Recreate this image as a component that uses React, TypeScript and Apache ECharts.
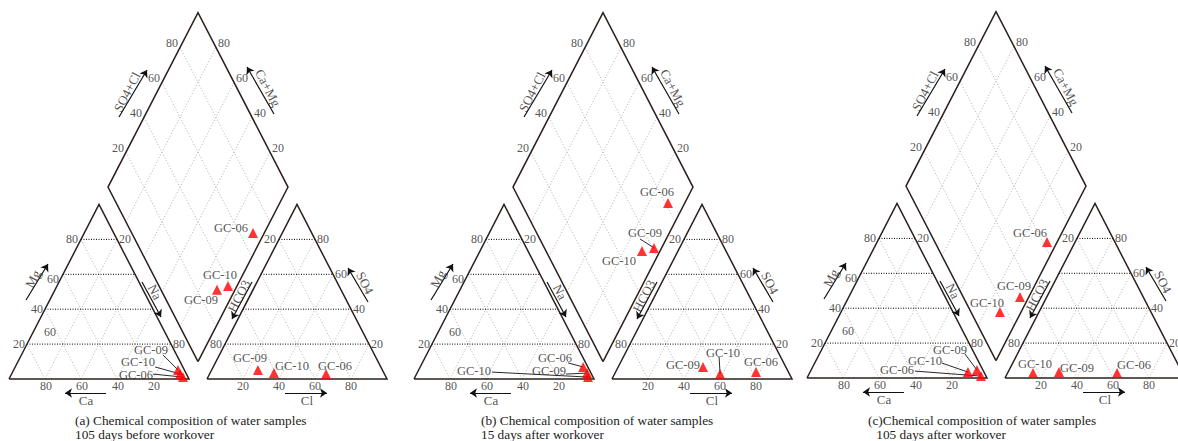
import React, { useEffect, useRef } from "react";
import * as echarts from "echarts";

// ---------- data ----------
const SAMPLES = ["GC-06", "GC-09", "GC-10"];
const TICKS = [20, 40, 60, 80];
const SIDE_TICKS = [20, 80];

// (a) 105 days before workover
const A_CA = [2.8, 3.5, 3.5];
const A_MG = [1.1, 5.2, 2.9];
const A_NA = [96.1, 91.3, 93.6];
const A_HCO3 = [32.4, 69.1, 61.1];
const A_SO4 = [2.9, 5.2, 3.4];
const A_CL = [64.7, 25.7, 35.5];
const A_SO4CL = [67.4, 31.1, 38.3];
const A_CAMG = [6.3, 10.0, 5.0];

// (b) 15 days after workover
const B_CA = [2.6, 2.2, 2.8];
const B_MG = [6.9, 3.4, 1.1];
const B_NA = [90.5, 94.4, 96.1];
const B_HCO3 = [18.0, 46.0, 38.5];
const B_SO4 = [4.0, 6.9, 2.9];
const B_CL = [78.0, 47.1, 58.6];
const B_SO4CL = [81.5, 60.9, 53.3];
const B_CAMG = [9.3, 4.2, 10.0];

// (c) 105 days after workover
const C_CA = [2.8, 3.3, 8.9];
const C_MG = [1.1, 4.6, 3.4];
const C_NA = [96.1, 92.1, 87.7];
const C_HCO3 = [36.3, 68.3, 83.0];
const C_SO4 = [2.9, 3.4, 2.9];
const C_CL = [60.8, 28.3, 14.1];
const C_SO4CL = [62.3, 31.5, 16.1];
const C_CAMG = [5.6, 4.9, 11.7];

const CAPTIONS = [
  ["(a) Chemical composition of water samples", "105 days before workover"],
  ["(b) Chemical composition of water samples", "15 days after workover"],
  ["(c)Chemical composition of water samples", " 105 days after workover"],
];

const PANEL_DATA = [
  { ca: A_CA, mg: A_MG, na: A_NA, hco3: A_HCO3, so4: A_SO4, cl: A_CL, s: A_SO4CL, c: A_CAMG },
  { ca: B_CA, mg: B_MG, na: B_NA, hco3: B_HCO3, so4: B_SO4, cl: B_CL, s: B_SO4CL, c: B_CAMG },
  { ca: C_CA, mg: C_MG, na: C_NA, hco3: C_HCO3, so4: C_SO4, cl: C_CL, s: C_SO4CL, c: C_CAMG },
];

// ---------- layout ----------
const FONT = '"Liberation Serif", "Times New Roman", serif';
const SX = 180;
const SY = 174.5;
const TEXT = "#262626";
const LINE = "#2b201d";
const PANELS = [
  { x0: 9, yb: 379, cap: [75, 414, 75, 428] },
  { x0: 414, yb: 379, cap: [481, 414, 481, 428] },
  { x0: 807, yb: 378, cap: [868, 414, 873, 428] },
];

// label offsets (px) from marker, order GC-06, GC-09, GC-10
const LABEL_OFF = [
  { cat: [[-47, -2], [-27, -20], [-42, -12]], an: [[9, -8], [-8, -12], [18, -7]], dia: [[-22, -5], [-16, 10], [-8, -11]] },
  { cat: [[-28, -9], [-38, -2], [-114, -6]], an: [[5, -10], [-20, -2], [3, -21]], dia: [[-11, -11], [-9, -15], [-23, 10]] },
  { cat: [[-84, -6], [-27, -20], [-43, -11]], an: [[17, -8], [18, -4], [2, -9]], dia: [[-17, -9], [-6, -11], [-13, -9]] },
];
const LEADER_END = [
  { cat: [[-30, -3], [-15, -15], [-25, -7]], an: [null, null, null], dia: [null, null, null] },
  { cat: [[-15, -4], [-21, 1], [-96, -5]], an: [null, null, [-1, -17]], dia: [null, [-14, -9], null] },
  { cat: [[-66, -5], [-12, -16], [-26, -9]], an: [null, null, null], dia: [null, null, null] },
];
const MG_OFF = [[-2, 0], [-2, 0], [-4, 5], [-3, 0]];
const ANG = 62.7;
// decorations: relative px from (x0, yb)
const ARROWS = [
  [[17, -79], [39, -115]],
  [[133, -97], [152, -62]],
  [[97, 14], [56, 14]],
  [[276, 14], [318, 14]],
  [[359, -77], [339, -111]],
  [[243, -97], [223, -60]],
  [[110, -262], [138, -309]],
  [[265, -265], [238, -312]],
];
const TITLES: [string, number[], number][] = [
  ["Mg", [24, -100], ANG],
  ["Na", [146, -87], -ANG],
  ["Ca", [77, 21], 0],
  ["Cl", [298, 21], 0],
  ["SO4", [356, -96], -ANG],
  ["HCO3", [230, -83], ANG],
  ["SO4+Cl", [118, -287], ANG],
  ["Ca+Mg", [259, -291], -ANG],
];
const EXTRA_LABELS: [string, number[]][] = [["60", [41, -47]]];

// ---------- transforms ----------
const toCat = (ca: number, mg: number, na: number) => {
  const t = ca + mg + na;
  return [na / t + mg / (2 * t), mg / t];
};
const toAn = (hco3: number, so4: number, cl: number) => {
  const t = hco3 + so4 + cl;
  return [1.1 + cl / t + so4 / (2 * t), so4 / t];
};
const toDia = (s: number, c: number) => [1.05 + (s - c) / 200, 0.1 + (s + c) / 100];
const off = (p: number[], d: number[]) => [p[0] + d[0] / SX, p[1] - d[1] / SY];
const rel = (d: number[]) => [d[0] / SX, -d[1] / SY];

function buildOption() {
  const grid: any[] = [];
  const xAxis: any[] = [];
  const yAxis: any[] = [];
  const series: any[] = [];
  const graphic: any[] = [];

  const outlines = [
    [[0, 0], [1, 0], [0.5, 1], [0, 0]],
    [[1.1, 0], [2.1, 0], [1.6, 1], [1.1, 0]],
    [[1.05, 0.1], [1.55, 1.1], [1.05, 2.1], [0.55, 1.1], [1.05, 0.1]],
  ];
  const horiz: number[][][] = [];
  const gray: number[][][] = [];
  TICKS.forEach((t) => {
    const f = t / 100;
    [0, 1.1].forEach((ox) => {
      horiz.push([[ox + f / 2, f], [ox + 1 - f / 2, f]]);
      gray.push([[ox + f, 0], [ox + f + (1 - f) / 2, 1 - f]]);
      gray.push([[ox + f, 0], [ox + f / 2, f]]);
    });
    gray.push([toDia(t, 0), toDia(t, 100)]);
    gray.push([toDia(0, t), toDia(100, t)]);
  });

  const labelBase = {
    show: true,
    position: "inside",
    formatter: "{b}",
    fontFamily: FONT,
    color: TEXT,
    textBorderWidth: 0,
    textBorderColor: "transparent",
    textShadowBlur: 0,
  };

  PANELS.forEach((P, i) => {
    grid.push({
      left: P.x0,
      top: P.yb - 2.1 * SY,
      width: 2.1 * SX,
      height: 2.1 * SY,
      containLabel: false,
      outerBoundsMode: "none",
    });
    xAxis.push({ type: "value", gridIndex: i, min: 0, max: 2.1, show: false });
    yAxis.push({ type: "value", gridIndex: i, min: 0, max: 2.1, show: false });
    const ax = { xAxisIndex: i, yAxisIndex: i };
    const D = PANEL_DATA[i];

    series.push({
      type: "lines", coordinateSystem: "cartesian2d", ...ax, polyline: true, silent: true, clip: false, z: 2,
      lineStyle: { color: "#9c9c9c", width: 0.8, type: [1, 2], opacity: 1 },
      data: gray.map((c) => ({ coords: c })),
    });
    series.push({
      type: "lines", coordinateSystem: "cartesian2d", ...ax, polyline: true, silent: true, clip: false, z: 3,
      lineStyle: { color: "#000", width: 1, type: [1, 1.5], opacity: 1 },
      data: horiz.map((c) => ({ coords: c })),
    });
    series.push({
      type: "lines", coordinateSystem: "cartesian2d", ...ax, polyline: true, silent: true, clip: false, z: 4,
      lineStyle: { color: LINE, width: 1.5, opacity: 1 },
      data: outlines.map((c) => ({ coords: c })),
    });
    series.push({
      type: "lines", coordinateSystem: "cartesian2d", ...ax, silent: true, clip: false, z: 4,
      symbol: ["none", "arrow"], symbolSize: 7,
      lineStyle: { color: "#111", width: 1.2, opacity: 1, curveness: 0 },
      data: ARROWS.map((a) => ({ coords: [rel(a[0]), rel(a[1])] })),
    });

    // tick labels
    const items: any[] = [];
    const addT = (text: string, pos: number[], align: string, offset: number[], rotate = 0, size = 12) =>
      items.push({
        name: text,
        value: pos,
        label: { ...labelBase, fontSize: size, align, verticalAlign: "middle", offset, rotate },
      });
    TICKS.forEach((t, k) => {
      addT(String(t), toCat(100 - t, t, 0), "right", MG_OFF[k]);
      addT(String(t), toCat(t, 0, 100 - t), "center", [1, 7]);
      addT(String(t), toAn(0, t, 100 - t), "left", [2, 0]);
      addT(String(t), toAn(100 - t, 0, t), "center", [0, 7]);
      addT(String(t), toDia(t, 100), "right", [-2, -4]);
      addT(String(t), toDia(100, t), "left", [2, -4]);
    });
    SIDE_TICKS.forEach((t) => {
      addT(String(t), toCat(0, 100 - t, t), "left", [2, 0]);
      addT(String(t), toAn(t, 100 - t, 0), "right", [-3, 0]);
    });
    EXTRA_LABELS.forEach(([t, p]) => addT(t, rel(p), "center", [0, 0]));
    TITLES.forEach(([t, p, r]) => addT(t, rel(p), "center", [0, 0], r, 13));
    series.push({
      type: "scatter", ...ax, silent: true, clip: false, z: 6, symbolSize: 1,
      itemStyle: { color: "rgba(255,255,255,0)" },
      label: { ...labelBase, fontSize: 12 },
      data: items,
    });

    // points
    const pts: any[] = [];
    const leaders: any[] = [];
    SAMPLES.forEach((name, j) => {
      const groups: [string, number[]][] = [
        ["cat", toCat(D.ca[j], D.mg[j], D.na[j])],
        ["an", toAn(D.hco3[j], D.so4[j], D.cl[j])],
        ["dia", toDia(D.s[j], D.c[j])],
      ];
      groups.forEach(([g, p]) => {
        pts.push({
          name,
          value: p,
          label: { ...labelBase, fontSize: 12.5, offset: (LABEL_OFF[i] as any)[g][j] },
        });
        const le = (LEADER_END[i] as any)[g][j];
        if (le) leaders.push({ coords: [p, off(p, le)] });
      });
    });
    series.push({
      type: "lines", coordinateSystem: "cartesian2d", ...ax, silent: true, clip: false, z: 7,
      lineStyle: { color: "#111", width: 0.9, opacity: 1, curveness: 0 },
      data: leaders,
    });
    series.push({
      type: "scatter", ...ax, silent: true, clip: false, z: 8,
      symbol: "triangle", symbolSize: 10,
      itemStyle: { color: "#ff0000" },
      label: { ...labelBase, fontSize: 12.5 },
      data: pts,
    });

    graphic.push({
      type: "text", left: P.cap[0], top: P.cap[1], silent: true,
      style: { text: CAPTIONS[i][0], fontSize: 13.3, fontFamily: FONT, fill: "#222" },
    });
    graphic.push({
      type: "text", left: P.cap[2], top: P.cap[3], silent: true,
      style: { text: CAPTIONS[i][1], fontSize: 13.3, fontFamily: FONT, fill: "#222" },
    });
  });

  return {
    animation: false,
    backgroundColor: "#ffffff",
    grid, xAxis, yAxis, series, graphic,
  };
}

export default function App() {
  const ref = useRef<HTMLDivElement>(null);
  useEffect(() => {
    if (!ref.current) return;
    const chart = echarts.init(ref.current, undefined, { renderer: "svg" });
    chart.setOption(buildOption() as any);
    return () => chart.dispose();
  }, []);
  return (
    <div
      ref={ref}
      style={{ position: "absolute", left: 0, top: 0, width: 1178, height: 441, overflow: "hidden" }}
    />
  );
}
